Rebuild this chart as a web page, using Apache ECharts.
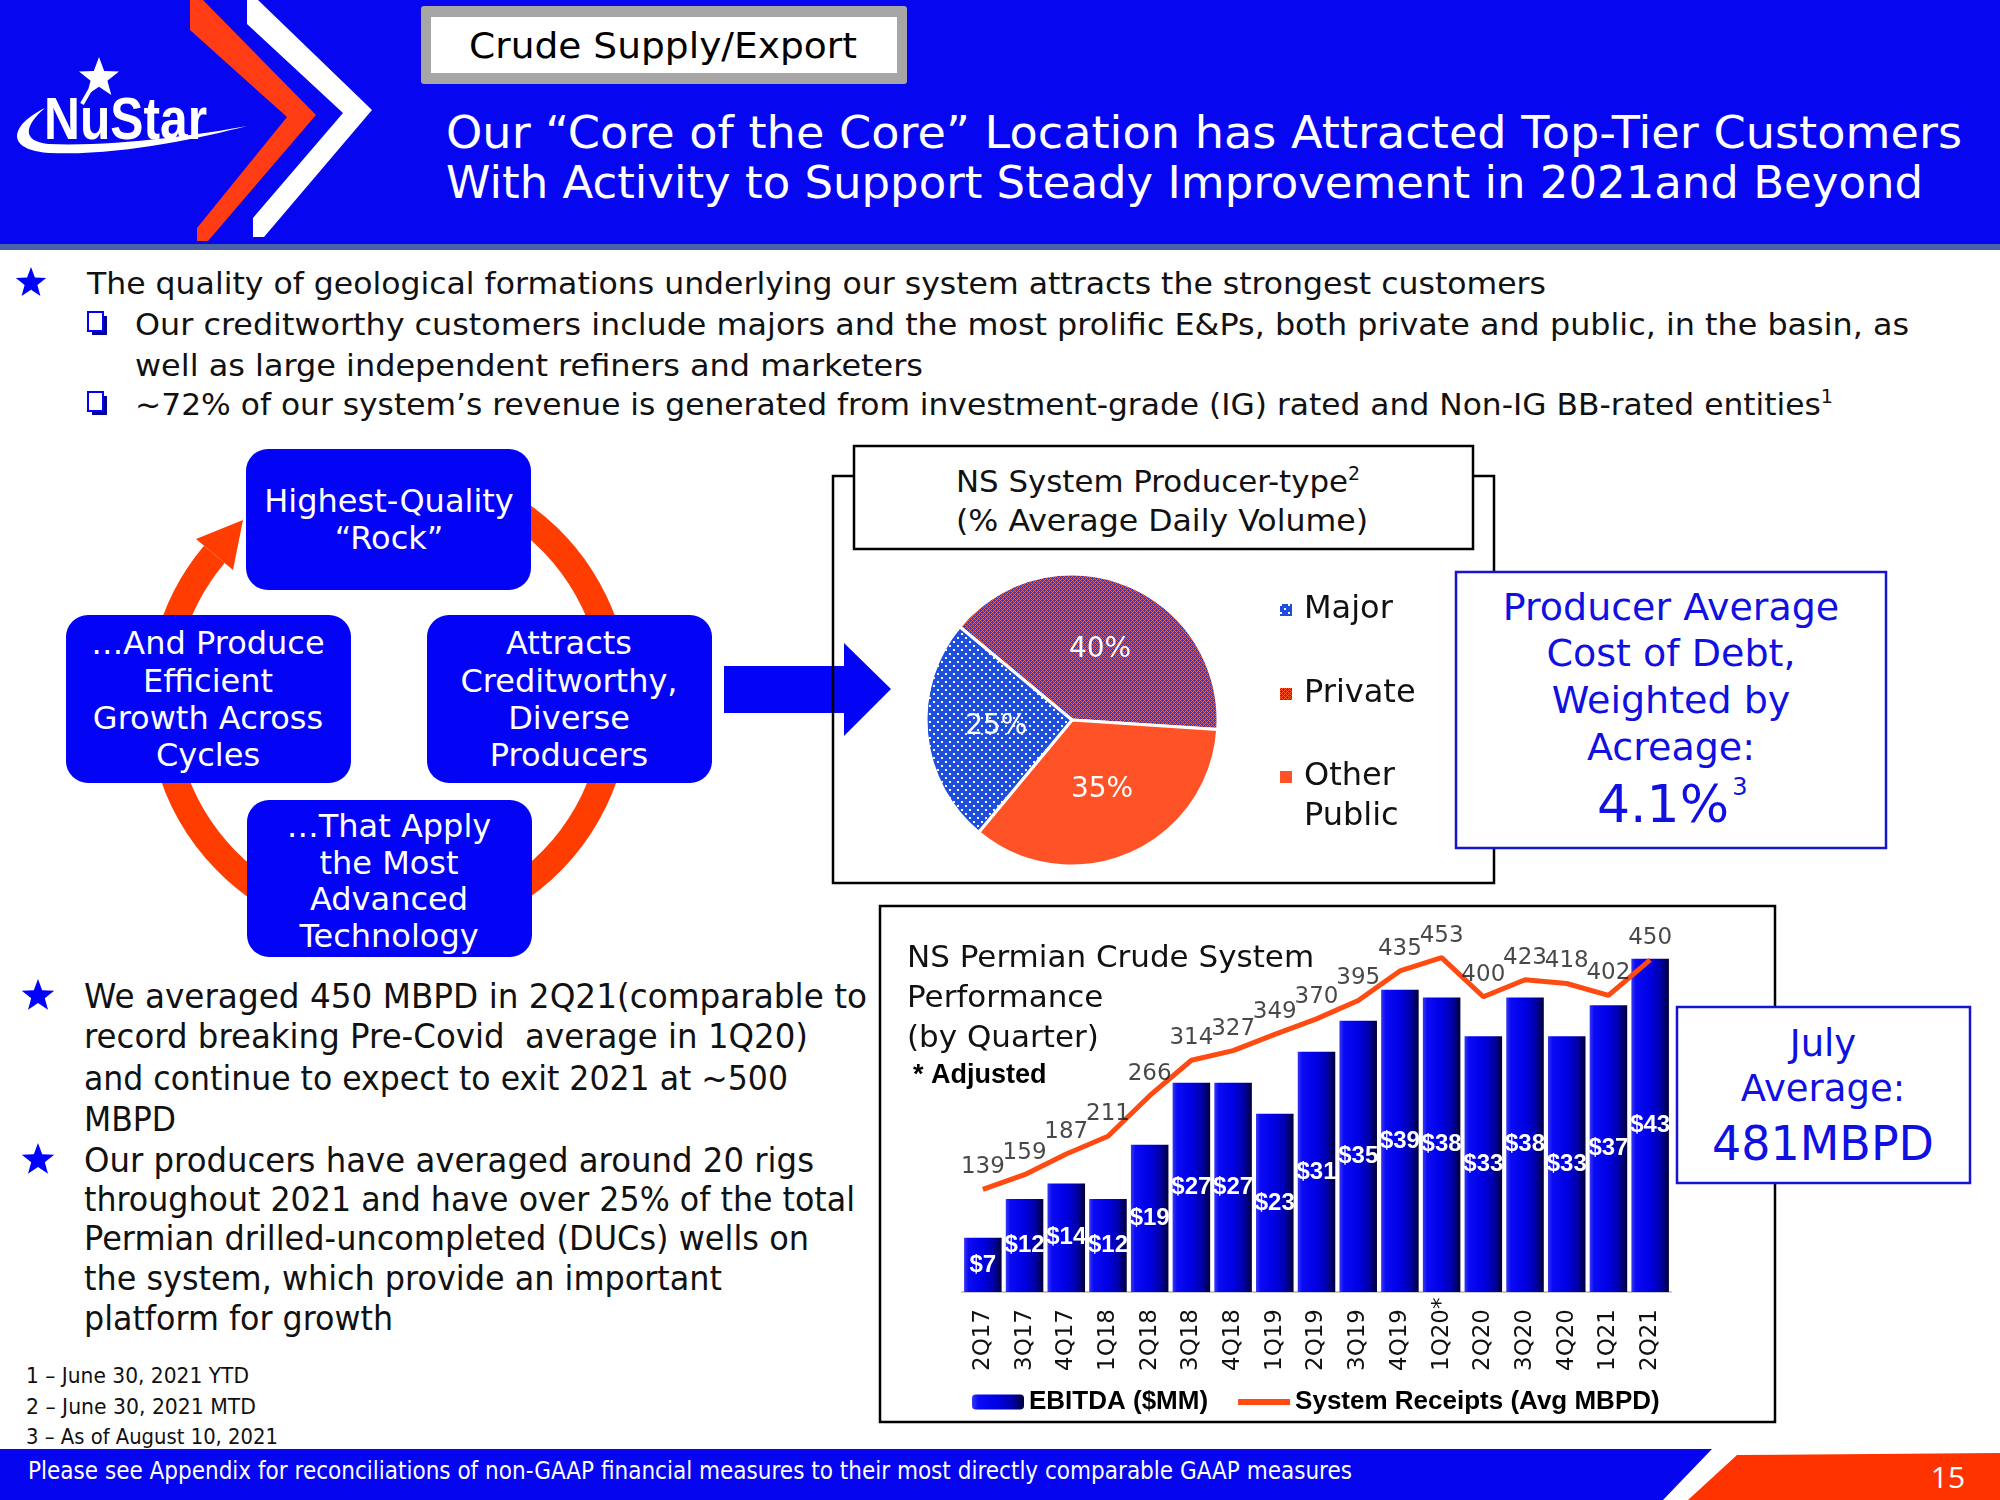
<!DOCTYPE html>
<html><head><meta charset="utf-8">
<script src="https://cdn.jsdelivr.net/npm/echarts@6/dist/echarts.min.js"></script>
<style>
html,body{margin:0;padding:0;background:#fff;}
#page{position:relative;width:2000px;height:1500px;overflow:hidden;background:#fff;}
#deco,#chart{position:absolute;left:0;top:0;width:2000px;height:1500px;}
#deco text{font-family:'DejaVu Sans',sans-serif;}
</style></head><body>
<div id="page">
<svg id="deco" width="2000" height="1500" xmlns="http://www.w3.org/2000/svg">
  <!-- header -->
  <rect x="0" y="0" width="2000" height="246" fill="#0606f0"/>
  <rect x="0" y="244" width="2000" height="6" fill="#4a62a6"/>
  <polygon points="190,0 203,0 316,115 208,241 197,241 197,228 287,117 190,30" fill="#ff3c14"/>
  <polygon points="247,0 258,0 372,110 264,237 253,237 253,218 343,113 247,24" fill="#ffffff"/>
  <path d="M45 108 C10 125, 4 150, 50 153 C120 156, 200 138, 247 126 C200 135, 110 147, 48 144 C22 141, 24 126, 45 108 Z" fill="#fff"/>
  <polygon class="star" data-cx="99" data-cy="78" data-r="21" fill="#fff"/>
  <line x1="90" y1="90" x2="82" y2="104" stroke="#fff" stroke-width="4"/>
  <text x="44" y="139" font-size="60" font-weight="bold" fill="#fff" textLength="163" lengthAdjust="spacingAndGlyphs" style="font-family:'Liberation Sans Narrow','Liberation Sans',sans-serif">NuStar</text>
  <rect x="421" y="6" width="486" height="78" rx="3" fill="#a6a6a6"/>
  <rect x="431" y="17" width="466" height="56" fill="#fff"/>
  <text x="469" y="58" font-size="36" fill="#000" textLength="388" lengthAdjust="spacingAndGlyphs">Crude Supply/Export</text>
  <text x="446" y="148" font-size="44" fill="#fff" textLength="1516" lengthAdjust="spacingAndGlyphs">Our “Core of the Core” Location has Attracted Top-Tier Customers</text>
  <text x="446" y="198" font-size="44" fill="#fff" textLength="1477" lengthAdjust="spacingAndGlyphs">With Activity to Support Steady Improvement in 2021and Beyond</text>

  <!-- top bullets -->
  <polygon class="star" data-cx="31" data-cy="283" data-r="16" fill="#0000ff"/>
  <text x="87" y="294" font-size="31" fill="#111" textLength="1459" lengthAdjust="spacingAndGlyphs">The quality of geological formations underlying our system attracts the strongest customers</text>
  <rect x="92" y="316" width="15" height="19" fill="#00009a"/>
  <rect x="88" y="312" width="15" height="19" fill="#fff" stroke="#0000ff" stroke-width="2"/>
  <text x="135" y="335" font-size="31" fill="#111" textLength="1774" lengthAdjust="spacingAndGlyphs">Our creditworthy customers include majors and the most prolific E&amp;Ps, both private and public, in the basin, as</text>
  <text x="135" y="376" font-size="31" fill="#111" textLength="788" lengthAdjust="spacingAndGlyphs">well as large independent refiners and marketers</text>
  <rect x="92" y="396" width="15" height="19" fill="#00009a"/>
  <rect x="88" y="392" width="15" height="19" fill="#fff" stroke="#0000ff" stroke-width="2"/>
  <text x="135" y="415" font-size="31" fill="#111" textLength="1698" lengthAdjust="spacingAndGlyphs">~72% of our system’s revenue is generated from investment-grade (IG) rated and Non-IG BB-rated entities<tspan font-size="19" dy="-12">1</tspan></text>

  <!-- cycle diagram -->
  <path d="M311 486.7 A228 228 0 1 1 214.3 554.4" fill="none" stroke="#ff3d00" stroke-width="27"/>
  <polygon points="243,520 233,570 196,539" fill="#ff3d00"/>
  <rect x="246" y="449" width="285" height="141" rx="22" fill="#0303f5"/>
  <rect x="66" y="615" width="285" height="168" rx="22" fill="#0303f5"/>
  <rect x="427" y="615" width="285" height="168" rx="22" fill="#0303f5"/>
  <rect x="247" y="800" width="285" height="157" rx="22" fill="#0303f5"/>
  <g font-size="32" fill="#fff" text-anchor="middle">
    <text x="389" y="512">Highest-Quality</text>
    <text x="389" y="549">“Rock”</text>
    <text x="208" y="654">…And Produce</text>
    <text x="208" y="692">Efficient</text>
    <text x="208" y="729">Growth Across</text>
    <text x="208" y="766">Cycles</text>
    <text x="569" y="654">Attracts</text>
    <text x="569" y="692">Creditworthy,</text>
    <text x="569" y="729">Diverse</text>
    <text x="569" y="766">Producers</text>
    <text x="389" y="837">…That Apply</text>
    <text x="389" y="874">the Most</text>
    <text x="389" y="910">Advanced</text>
    <text x="389" y="947">Technology</text>
  </g>
  <polygon points="724,666 844,666 844,643 891,689 844,736 844,713 724,713" fill="#0303f5"/>

  <!-- pie frame -->
  <rect x="833" y="476" width="661" height="407" fill="none" stroke="#000" stroke-width="2.5"/>
  <rect x="854" y="446" width="619" height="103" fill="#fff" stroke="#000" stroke-width="2.5"/>
  <text x="956" y="492" font-size="31" fill="#111" textLength="404" lengthAdjust="spacingAndGlyphs">NS System Producer-type<tspan font-size="19" dy="-12">2</tspan></text>
  <text x="956" y="531" font-size="31" fill="#111" textLength="412" lengthAdjust="spacingAndGlyphs">(% Average Daily Volume)</text>

  <!-- cost of debt box -->
  <rect x="1456" y="572" width="430" height="276" fill="#fff" stroke="#1414d2" stroke-width="2.5"/>
  <g fill="#1010e0" text-anchor="middle" font-size="38">
    <text x="1671" y="620">Producer Average</text>
    <text x="1671" y="666">Cost of Debt,</text>
    <text x="1671" y="713">Weighted by</text>
    <text x="1671" y="760">Acreage:</text>
    <text x="1663" y="822" font-size="52">4.1%</text>
    <text x="1740" y="795" font-size="24">3</text>
  </g>

  <!-- bar chart frame -->
  <rect x="880" y="906" width="895" height="516" fill="none" stroke="#000" stroke-width="2.5"/>
  <rect x="1677" y="1007" width="293" height="176" fill="#fff" stroke="#1414d2" stroke-width="2.5"/>
  <g fill="#1010e0" text-anchor="middle">
    <text x="1823" y="1056" font-size="37">July</text>
    <text x="1823" y="1101" font-size="37">Average:</text>
    <text x="1823" y="1160" font-size="48" textLength="222" lengthAdjust="spacingAndGlyphs">481MBPD</text>
  </g>

  <!-- lower bullets -->
  <polygon class="star" data-cx="38" data-cy="996" data-r="17" fill="#0000ff"/>
  <polygon class="star" data-cx="38" data-cy="1160" data-r="17" fill="#0000ff"/>
  <g font-size="34" fill="#111">
    <text x="84" y="1008" textLength="783" lengthAdjust="spacingAndGlyphs">We averaged 450 MBPD in 2Q21(comparable to</text>
    <text x="84" y="1048" textLength="724" lengthAdjust="spacingAndGlyphs" xml:space="preserve">record breaking Pre-Covid  average in 1Q20)</text>
    <text x="84" y="1090" textLength="704" lengthAdjust="spacingAndGlyphs">and continue to expect to exit 2021 at ~500</text>
    <text x="84" y="1131" textLength="92" lengthAdjust="spacingAndGlyphs">MBPD</text>
    <text x="84" y="1172" textLength="730" lengthAdjust="spacingAndGlyphs">Our producers have averaged around 20 rigs</text>
    <text x="84" y="1211" textLength="771" lengthAdjust="spacingAndGlyphs">throughout 2021 and have over 25% of the total</text>
    <text x="84" y="1250" textLength="725" lengthAdjust="spacingAndGlyphs">Permian drilled-uncompleted (DUCs) wells on</text>
    <text x="84" y="1290" textLength="638" lengthAdjust="spacingAndGlyphs">the system, which provide an important</text>
    <text x="84" y="1330" textLength="309" lengthAdjust="spacingAndGlyphs">platform for growth</text>
  </g>
  <g font-size="22" fill="#111">
    <text x="26" y="1383" textLength="223" lengthAdjust="spacingAndGlyphs">1 – June 30, 2021 YTD</text>
    <text x="26" y="1414" textLength="230" lengthAdjust="spacingAndGlyphs">2 – June 30, 2021 MTD</text>
    <text x="26" y="1444" textLength="252" lengthAdjust="spacingAndGlyphs">3 – As of August 10, 2021</text>
  </g>

  <!-- footer -->
  <polygon points="0,1449 1712,1449 1663,1500 0,1500" fill="#0505f0"/>
  <polygon points="1737,1455 2000,1453 2000,1500 1688,1500" fill="#ff3300"/>
  <text x="28" y="1479" font-size="24" fill="#fff" textLength="1324" lengthAdjust="spacingAndGlyphs">Please see Appendix for reconciliations of non-GAAP financial measures to their most directly comparable GAAP measures</text>
  <text x="1948" y="1488" font-size="30" fill="#fff" text-anchor="middle" style="font-family:'Open Sans','DejaVu Sans',sans-serif">15</text>
</svg>
<div id="chart"></div>
</div>
<script>
// ---- data ----
const quarters = ['2Q17','3Q17','4Q17','1Q18','2Q18','3Q18','4Q18','1Q19','2Q19','3Q19','4Q19','1Q20*','2Q20','3Q20','4Q20','1Q21','2Q21'];
const ebitda = [7,12,14,12,19,27,27,23,31,35,39,38,33,38,33,37,43];
const receipts = [139,159,187,211,266,314,327,349,370,395,435,453,400,423,418,402,450];
const producerTypes = ['Private','Other Public','Major'];
const producerShares = [40,35,25];

// ---- decoration helpers ----
document.querySelectorAll('polygon.star').forEach(function(p){
  const cx=+p.dataset.cx, cy=+p.dataset.cy, r=+p.dataset.r, ri=r*0.42, pts=[];
  for(let i=0;i<10;i++){const a=-Math.PI/2+i*Math.PI/5, rr=i%2?ri:r; pts.push((cx+rr*Math.cos(a)).toFixed(1)+','+(cy+rr*Math.sin(a)).toFixed(1));}
  p.setAttribute('points',pts.join(' '));
});
function makePattern(w,h,draw){const c=document.createElement('canvas');c.width=w;c.height=h;const g=c.getContext('2d');draw(g);return {image:c,repeat:'repeat'};}
const majorFill = makePattern(8,8,function(g){g.fillStyle='#1e4fdc';g.fillRect(0,0,8,8);g.fillStyle='#ffffff';g.fillRect(1,1,2,2);g.fillRect(5,5,2,2);});
const privateFill = makePattern(4,4,function(g){g.fillStyle='#2a40d8';g.fillRect(0,0,4,4);g.fillStyle='#ff5a28';
  for(let x=0;x<4;x++)for(let y=0;y<4;y++){if((x+y)%4===0||(x-y+4)%4===0)g.fillRect(x,y,1,1);}});
const fills = {'Major':majorFill,'Private':privateFill,'Other Public':'#ff5226'};

const FONT = "'DejaVu Sans', sans-serif";
const BOLD = "'Liberation Sans', Arial, sans-serif";
const LINE_COLOR = '#ff4a12';
const barGrad = {type:'linear',x:0,y:0,x2:1,y2:0,colorStops:[
  {offset:0,color:'#3838f2'},{offset:0.12,color:'#0a0af6'},{offset:0.5,color:'#0000e4'},
  {offset:0.78,color:'#0000a8'},{offset:1,color:'#00003a'}]};

const chart = echarts.init(document.getElementById('chart'), null, {renderer:'canvas', width:2000, height:1500});
chart.setOption({
  animation:false,
  textStyle:{fontFamily:FONT},
  title:[
    {text:'NS Permian Crude System\nPerformance\n(by Quarter)', left:907, top:939, padding:0,
     textStyle:{fontFamily:FONT, fontSize:31, fontWeight:'normal', lineHeight:40, color:'#111'}},
    {text:'* Adjusted', left:913, top:1062, padding:0,
     textStyle:{fontFamily:BOLD, fontSize:27, fontWeight:'bold', color:'#000'}}
  ],
  legend:[
    {data:['EBITDA ($MM)', {name:'System Receipts (Avg MBPD)', icon:'path://M0,0 L52,0 L52,6 L0,6 Z', itemStyle:{color:LINE_COLOR}}],
     left:972, top:1389, padding:0,
     itemWidth:52, itemHeight:15, itemGap:30, selectedMode:false,
     textStyle:{fontFamily:BOLD, fontWeight:'bold', fontSize:26, color:'#000'}},
    {data:['Major'], left:1278, top:594, padding:0, icon:'rect', itemWidth:14, itemHeight:14, selectedMode:false,
     textStyle:{fontFamily:FONT, fontSize:32, lineHeight:32, color:'#111', padding:[0,0,0,6]}},
    {data:['Private'], left:1278, top:678, padding:0, icon:'rect', itemWidth:14, itemHeight:14, selectedMode:false,
     textStyle:{fontFamily:FONT, fontSize:32, lineHeight:32, color:'#111', padding:[0,0,0,6]}},
    {data:['Other Public'], left:1278, top:717, padding:0, icon:'rect', itemWidth:14, itemHeight:14, selectedMode:false,
     formatter:function(){return ' \nOther\nPublic';},
     textStyle:{fontFamily:FONT, fontSize:32, lineHeight:40, color:'#111', padding:[0,0,0,6]}}
  ],
  grid:{left:962, top:904.5, width:709, height:387.5},
  xAxis:{type:'category', data:quarters, axisTick:{show:false},
    axisLine:{lineStyle:{color:'#c8c8c8', width:2}},
    axisLabel:{interval:0, rotate:90, align:'left', margin:79, fontSize:23, color:'#111', fontFamily:FONT}},
  yAxis:[{type:'value', min:0, max:50, show:false},{type:'value', min:0, max:525, show:false}],
  series:[
    {type:'bar', name:'EBITDA ($MM)', data:ebitda, barCategoryGap:'10%', itemStyle:{color:barGrad},
     label:{show:true, position:'inside', formatter:function(p){return '$'+p.value;}, color:'#fff',
            fontWeight:'bold', fontSize:24, fontFamily:BOLD}},
    {type:'line', name:'System Receipts (Avg MBPD)', yAxisIndex:1, data:receipts, symbol:'none',
     lineStyle:{color:LINE_COLOR, width:5}, itemStyle:{color:LINE_COLOR}, z:3},
    {type:'scatter', name:'receipt labels', yAxisIndex:1, data:receipts, symbolSize:1,
     itemStyle:{color:'rgba(0,0,0,0)'}, z:4,
     label:{show:true, position:'top', distance:10, fontSize:23, color:'#1a1a1a', fontFamily:FONT}},
    {type:'pie', name:'Producer type', center:[1072,720], radius:146, startAngle:140.3, clockwise:true,
     data:producerTypes.map(function(n,i){return {name:n, value:producerShares[i], itemStyle:{color:fills[n]}};}),
     label:{show:true, position:'inside', formatter:'{c}%', color:'#fff', fontSize:28, fontFamily:FONT},
     labelLine:{show:false}, itemStyle:{borderColor:'#fff', borderWidth:3}, emphasis:{disabled:true}}
  ]
});
</script>
</body></html>
